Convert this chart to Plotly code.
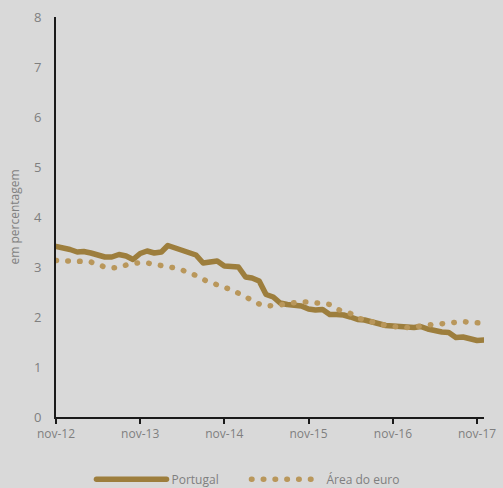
import plotly.graph_objects as go
import pandas as pd

months = pd.date_range("2012-11-01", "2017-12-01", freq="MS")

portugal = [3.41, 3.39, 3.35, 3.30, 3.31, 3.28, 3.23, 3.20, 3.20, 3.25, 3.22, 3.15,
            3.27, 3.32, 3.28, 3.30, 3.43, 3.38, 3.32, 3.28, 3.24, 3.08, 3.10, 3.12,
            3.02, 3.01, 3.00, 2.80, 2.78, 2.72, 2.45, 2.40, 2.28, 2.25, 2.23, 2.22,
            2.16, 2.14, 2.15, 2.05, 2.05, 2.04, 2.00, 1.95, 1.94, 1.90, 1.86, 1.83,
            1.82, 1.80, 1.80, 1.79, 1.81, 1.76, 1.72, 1.70, 1.69, 1.59, 1.60, 1.56,
            1.53, 1.54]

euro = [3.13, 3.13, 3.13, 3.12, 3.11, 3.10, 3.05, 3.00, 2.98, 2.99, 3.04, 3.07,
        3.09, 3.08, 3.06, 3.04, 3.02, 2.98, 2.94, 2.89, 2.83, 2.75, 2.69, 2.64,
        2.59, 2.55, 2.48, 2.38, 2.32, 2.26, 2.22, 2.22, 2.24, 2.27, 2.29, 2.30,
        2.30, 2.29, 2.27, 2.25, 2.16, 2.10, 2.07, 1.98, 1.94, 1.91, 1.87, 1.83,
        1.81, 1.79, 1.79, 1.80, 1.83, 1.84, 1.85, 1.86, 1.87, 1.90, 1.91, 1.89,
        1.88, 1.88]

tick_dates = ["2012-11-01", "2013-11-01", "2014-11-01", "2015-11-01", "2016-11-01", "2017-11-01"]
tick_labels = ["nov-12", "nov-13", "nov-14", "nov-15", "nov-16", "nov-17"]
y_ticks = [0, 1, 2, 3, 4, 5, 6, 7, 8]

fig = go.Figure()
fig.add_trace(go.Scatter(x=months, y=portugal, mode="lines", name="Portugal",
                         line=dict(color="#9D7E3D", width=5.5)))
fig.add_trace(go.Scatter(x=months, y=euro, mode="lines", name="Área do euro",
                         line=dict(color="#B9975B", width=5.5, dash="0.5px,11.3px")))

fig.update_layout(
    width=503, height=488,
    margin=dict(l=56, r=19, t=17, b=71, autoexpand=False),
    paper_bgcolor="#D9D9D9", plot_bgcolor="#D9D9D9",
    font=dict(family="Open Sans", size=12, color="#7F7F7F"),
    showlegend=True,
    legend=dict(orientation="h", xref="container", yref="container",
                x=0.49, xanchor="center", y=0.018, yanchor="middle",
                itemwidth=70, entrywidth=70, entrywidthmode="pixels",
                font=dict(size=12, color="#7F7F7F"),
                bgcolor="rgba(0,0,0,0)"),
    xaxis=dict(range=["2012-11-01", "2017-12-01"], tickvals=tick_dates, ticktext=tick_labels,
               automargin=False,
               showgrid=False, zeroline=False, showline=True, linecolor="#1A1A1A", linewidth=2,
               ticks="outside", ticklen=5, tickwidth=2, tickcolor="#1A1A1A",
               tickfont=dict(size=12, color="#7F7F7F")),
    yaxis=dict(range=[0, 8], tickvals=y_ticks, showgrid=False, zeroline=False,
               automargin=False,
               showline=True, linecolor="#1A1A1A", linewidth=2, ticks="",
               ticklabelstandoff=10,
               title=dict(text="em percentagem", standoff=12,
                          font=dict(size=12, color="#7F7F7F")),
               tickfont=dict(size=13, color="#7F7F7F")),
)

post = (
    "document.body.style.margin='0';"
    "document.body.style.background='#D9D9D9';"
    "document.querySelectorAll('.scatterlayer path.js-line, .legend .legendlines path')"
    ".forEach(function(p){p.style.strokeLinecap='round';p.style.strokeLinejoin='round';});"
)
fig.write_html("out.html", config={"displayModeBar": False}, post_script=post)
